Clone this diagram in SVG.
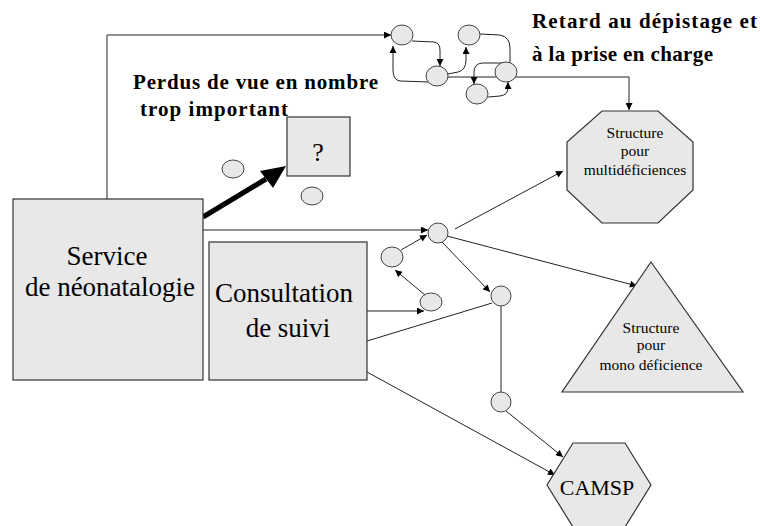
<svg xmlns="http://www.w3.org/2000/svg" width="760" height="526" viewBox="0 0 760 526">
<style>
.box{fill:#e8e8e8;stroke:#333;stroke-width:1.2}
.dot{fill:#e8e8e8;stroke:#444;stroke-width:1}
.ln{fill:none;stroke:#222;stroke-width:1}
.arr{marker-end:url(#ah)}
.serif{font-family:"Liberation Serif","Times New Roman",serif;fill:#000}
.bold{font-family:"Liberation Serif","Times New Roman",serif;font-weight:bold;font-size:21px;fill:#000}
.small{font-size:15.5px}
</style>
<defs>
<marker id="ah" markerUnits="userSpaceOnUse" viewBox="0 0 10 10" refX="10" refY="5" markerWidth="9" markerHeight="7" orient="auto">
<path d="M0,0 L10,5 L0,10 z" fill="#000"/>
</marker>
</defs>

<g id="connectors">
<path class="ln arr" d="M107,199 L107,35 L391,35"/>
<path class="ln arr" d="M412,41 L434,42 Q440,43 440,50 L440,66"/>
<path class="ln arr" d="M429,82 L400,81 Q393,80 393,70 L393,46"/>
<path class="ln arr" d="M448,74 L458,72 Q466,70 466,60 L466,47"/>
<path class="ln arr" d="M480,34 L500,35 Q510,37 510,48 L510,75"/>
<path class="ln arr" d="M510,63 L482,63 Q474,64 474,72 L474,84"/>
<path class="ln arr" d="M488,97 L500,96 Q508,95 508,88 L508,82"/>
<path class="ln arr" d="M448,77 L629,77 L629,110"/>
<path class="ln arr" d="M203,230 L428,230"/>
<path class="ln arr" d="M401,250 L427,235"/>
<path class="ln arr" d="M425,295 L395,270"/>
<path class="ln arr" d="M367,311 L424,311"/>
<path class="ln arr" d="M442,242 L490,292"/>
<path class="ln arr" d="M447,236 L637,286"/>
<path class="ln arr" d="M455,229 L563,171"/>
<path class="ln" d="M367,341 L492,303"/>
<path class="ln" d="M501,306 L501,392"/>
<path class="ln arr" d="M506,411 L563,457"/>
<path class="ln arr" d="M367,372 L555,475"/>
<path d="M203,217 L266,179" stroke="#000" stroke-width="5" fill="none"/>
<path d="M286,166 L273,188 L260,171 z" fill="#000"/>
</g>

<g id="dots-top">
<ellipse class="dot" cx="402" cy="35" rx="11" ry="10"/>
<ellipse class="dot" cx="437" cy="76" rx="11" ry="10"/>
<ellipse class="dot" cx="469" cy="35" rx="11" ry="10"/>
<ellipse class="dot" cx="506" cy="72" rx="11" ry="10"/>
<ellipse class="dot" cx="477" cy="94" rx="11" ry="10"/>
</g>
<g id="dots-lost">
<ellipse class="dot" cx="233" cy="169" rx="11" ry="9"/>
<ellipse class="dot" cx="312" cy="196" rx="11" ry="9"/>
</g>
<g id="dots-mid">
<ellipse class="dot" cx="438" cy="233" rx="10" ry="10"/>
<ellipse class="dot" cx="392" cy="257" rx="11" ry="10"/>
<ellipse class="dot" cx="431" cy="302" rx="11" ry="9"/>
<ellipse class="dot" cx="501" cy="296" rx="10" ry="10"/>
<ellipse class="dot" cx="501" cy="402" rx="10" ry="10"/>
</g>

<g id="service">
<rect class="box" x="13" y="199" width="190" height="181"/>
<text class="serif" font-size="27" text-anchor="middle" x="107" y="265">Service</text>
<text class="serif" font-size="27" text-anchor="middle" x="110" y="296">de néonatalogie</text>
</g>

<g id="consultation">
<rect class="box" x="209" y="242" width="158" height="138"/>
<text class="serif" font-size="27" text-anchor="middle" x="284" y="302">Consultation</text>
<text class="serif" font-size="27" text-anchor="middle" x="288" y="337">de suivi</text>
</g>

<g id="unknown">
<rect class="box" x="287" y="117" width="63" height="59"/>
<text class="serif" font-size="26" text-anchor="middle" x="318" y="161">?</text>
</g>

<g id="multi">
<polygon class="box" points="602,111 658,111 693,142 693,190 658,223 602,223 567,190 567,142"/>
<text class="serif small" text-anchor="middle" x="635" y="138">Structure</text>
<text class="serif small" text-anchor="middle" x="635" y="156">pour</text>
<text class="serif small" text-anchor="middle" x="635" y="175">multidéficiences</text>
</g>

<g id="mono">
<polygon class="box" points="651,262 743,392 562,392"/>
<text class="serif small" text-anchor="middle" x="651" y="333">Structure</text>
<text class="serif small" text-anchor="middle" x="651" y="350">pour</text>
<text class="serif small" text-anchor="middle" x="651" y="370">mono déficience</text>
</g>

<g id="camsp">
<polygon class="box" points="573,443 625,443 651,485 625,527 573,527 547,485"/>
<text class="serif" font-size="22" text-anchor="middle" x="597" y="495">CAMSP</text>
</g>

<g id="labels">
<text class="bold" x="532" y="28" textLength="225">Retard au dépistage et</text>
<text class="bold" x="532" y="61" textLength="181">à la prise en charge</text>
<text class="bold" x="133" y="89" textLength="245">Perdus de vue en nombre</text>
<text class="bold" x="140" y="116" textLength="148">trop important</text>
</g>
</svg>
